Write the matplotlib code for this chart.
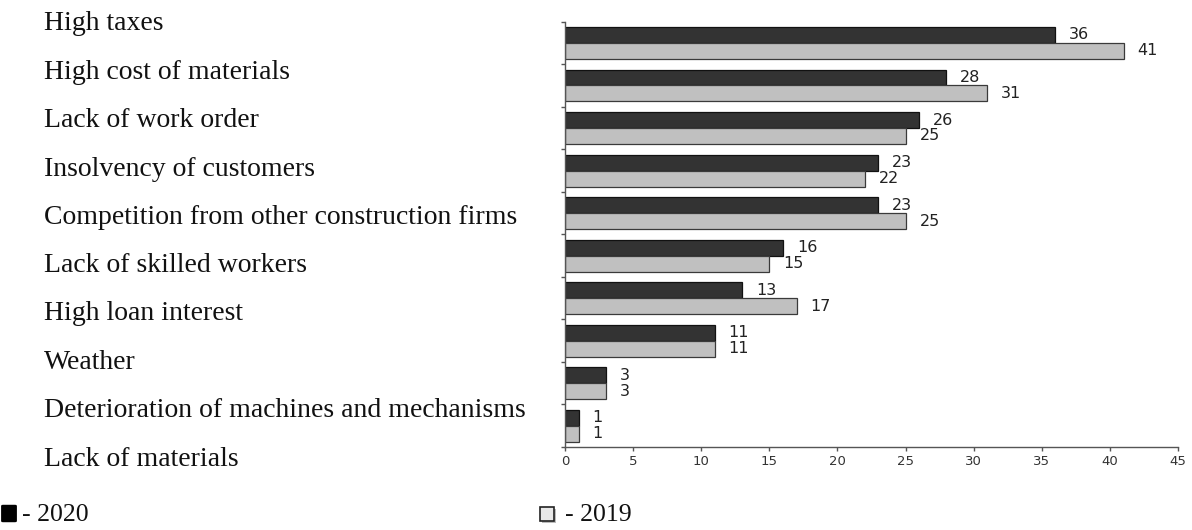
import matplotlib
matplotlib.use("Agg")
import matplotlib.pyplot as plt
from matplotlib.patches import FancyBboxPatch, Rectangle
import numpy as np

categories = [
    "High taxes",
    "High cost of materials",
    "Lack of work order",
    "Insolvency of customers",
    "Competition from other construction firms",
    "Lack of skilled workers",
    "High loan interest",
    "Weather",
    "Deterioration of machines and mechanisms",
    "Lack of materials",
]
values_2020 = [36, 28, 26, 23, 23, 16, 13, 11, 3, 1]
values_2019 = [41, 31, 25, 22, 25, 15, 17, 11, 3, 1]
xticks = [0, 5, 10, 15, 20, 25, 30, 35, 40, 45]
legend_labels = ["- 2020", "- 2019"]

W, H = 1192, 530
fig = plt.figure(figsize=(W / 100, H / 100), dpi=100)

left, right, top, bottom = 565, 1178, 21.7, 447
ax = fig.add_axes([left / W, 1 - bottom / H, (right - left) / W, (bottom - top) / H])

n = len(values_2020)
pos = np.arange(n)
h = 0.375
dark = "#333333"
light = "#c0c0c0"
ax.barh(pos - h / 2, values_2020, height=h, color=dark, edgecolor="#111111", linewidth=0.9)
ax.barh(pos + h / 2, values_2019, height=h, color=light, edgecolor="#3a3a3a", linewidth=0.9)

lab_kw = dict(textcoords="offset points", ha="left", va="center", fontsize=11.5,
              color="#222222", family="DejaVu Sans")
for i in range(n):
    ax.annotate(str(values_2020[i]), (values_2020[i], pos[i] - h / 2), xytext=(10, 0), **lab_kw)
    ax.annotate(str(values_2019[i]), (values_2019[i], pos[i] + h / 2), xytext=(10, 0), **lab_kw)

ax.set_xlim(0, 45)
ax.set_ylim(n - 0.5, -0.5)
ax.set_xticks(xticks)
ax.set_xticklabels([str(t) for t in xticks], fontsize=9.5, color="#333333",
                   family="DejaVu Sans")
ax.set_yticks(np.arange(-0.5, n, 1.0))
ax.set_yticklabels([])
for s in ["top", "right"]:
    ax.spines[s].set_visible(False)
for s in ["left", "bottom"]:
    ax.spines[s].set_color("#555555")
    ax.spines[s].set_linewidth(1.0)
ax.tick_params(axis="y", length=3, width=1, color="#555555", direction="out")
ax.tick_params(axis="x", length=3, width=1, color="#555555", direction="out", pad=3)

# category labels (separate text column, serif)
y_first, y_last = 24, 459
for i, c in enumerate(categories):
    yp = y_first + (y_last - y_first) * i / (n - 1)
    fig.text(44 / W, 1 - yp / H, c, ha="left", va="center", fontsize=20,
             family="Liberation Serif", color="#111111")

# legend
fig.patches.append(FancyBboxPatch((3 / W, 1 - 521 / H), 12 / W, 15 / H,
                                  boxstyle="round,pad=0.001", transform=fig.transFigure,
                                  facecolor="black", edgecolor="black", linewidth=1))
fig.text(22 / W, 1 - 515 / H, legend_labels[0], ha="left", va="center", fontsize=18.5,
         family="Liberation Serif", color="#111111")
fig.patches.append(Rectangle((542 / W, 1 - 523 / H), 14 / W, 14 / H, transform=fig.transFigure,
                             facecolor="#bbbbbb", edgecolor="none"))
fig.patches.append(Rectangle((540 / W, 1 - 521 / H), 14 / W, 14 / H, transform=fig.transFigure,
                             facecolor="#e8e8e8", edgecolor="#222222", linewidth=1.2))
fig.text(565 / W, 1 - 515 / H, legend_labels[1], ha="left", va="center", fontsize=18.5,
         family="Liberation Serif", color="#111111")

fig.savefig("out.png", dpi=100)
